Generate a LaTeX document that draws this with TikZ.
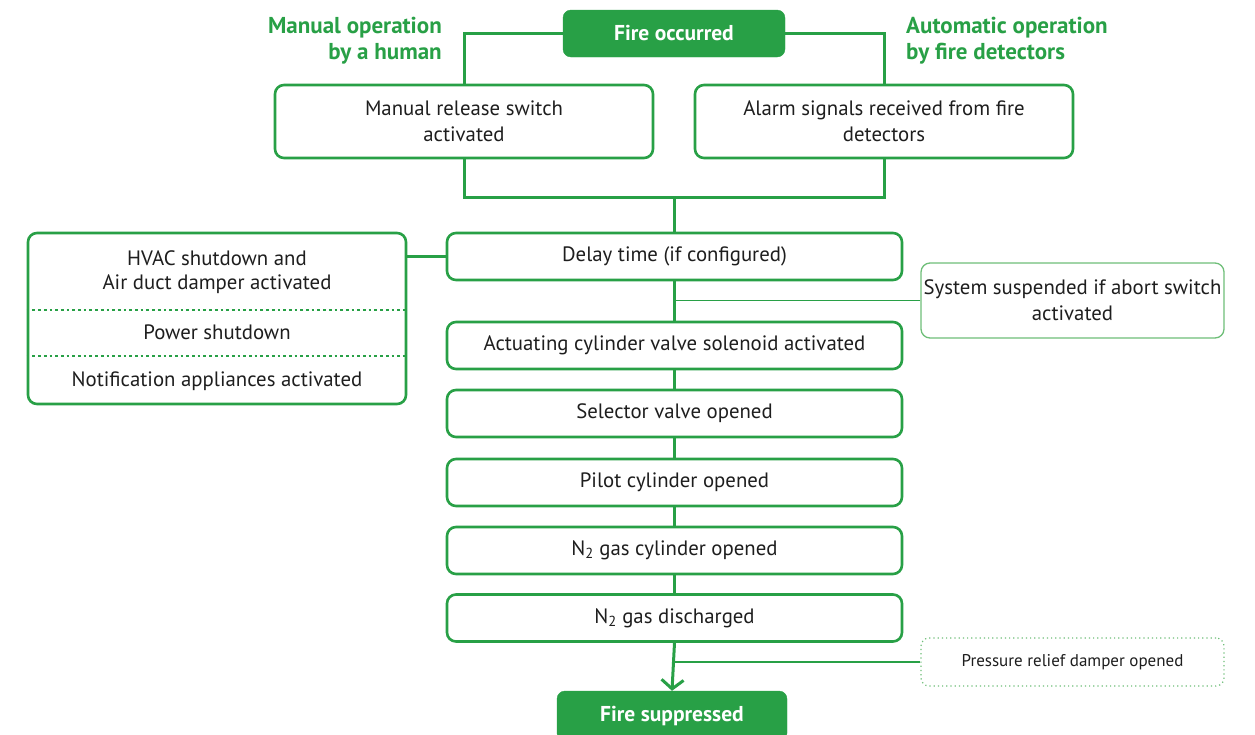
\documentclass[tikz,border=0pt]{standalone}
\usepackage{fontspec}
\setmainfont{PT Sans}
\usetikzlibrary{arrows.meta}
\definecolor{grn}{RGB}{40,160,70}
\definecolor{lgrn}{RGB}{110,190,120}
\definecolor{txt}{RGB}{30,30,30}
\begin{document}
\begin{tikzpicture}[x=1pt,y=-1pt,
  box/.style={draw=grn, line width=2.6pt, rounded corners=9pt, fill=white, text=txt,
    align=center, inner sep=0pt, font=\fontsize{20.8}{26}\selectfont},
  midbox/.style={box, minimum width=455pt, minimum height=47pt},
  topbox/.style={box, minimum width=378pt, minimum height=73pt},
  startbox/.style={fill=grn, draw=grn, rounded corners=8pt, text=white, inner sep=0pt,
    font=\bfseries\fontsize{21.5}{24}\selectfont, minimum width=222pt, minimum height=47pt},
  sidebox/.style={draw=lgrn, line width=1.3pt, rounded corners=9pt, fill=white, text=txt,
    align=center, inner sep=0pt, font=\fontsize{20.8}{26}\selectfont,
    minimum width=303pt, minimum height=75pt},
  dotbox/.style={draw=lgrn, line width=1.2pt, dash pattern=on 1.2pt off 3pt, rounded corners=8pt,
    fill=white, text=txt, inner sep=0pt, font=\fontsize{17}{20}\selectfont,
    minimum width=303pt, minimum height=48pt},
  lbl/.style={text=grn, font=\bfseries\fontsize{23}{26.5}\selectfont, inner sep=0pt},
  txtnode/.style={text=txt, inner sep=0pt, font=\fontsize{20.8}{24}\selectfont},
  conn/.style={draw=grn, line width=3pt},
  thinconn/.style={draw=grn, line width=1.4pt},
  dotsep/.style={draw=grn, line width=2.8pt, dash pattern=on 2.7pt off 3pt}
]
\useasboundingbox (0,0) rectangle (1255,734);

% top
\node[startbox] (fire) at (674,33.5) {Fire occurred};
\node[topbox] (manual) at (464,121.5) {Manual release switch\\activated};
\node[topbox] (alarm) at (884,121.5) {Alarm signals received from fire\\detectors};
\node[lbl, align=right, anchor=east] (lblm) at (442,40.5) {Manual operation\\by a human};
\node[lbl, align=left, anchor=west] (lbla) at (906,40.5) {Automatic operation\\by fire detectors};

\draw[conn] (fire.west) -| (manual.north);
\draw[conn] (fire.east) -| (alarm.north);

% middle chain
\node[midbox] (delay) at (674.5,256.5) {Delay time (if configured)};
\node[midbox] (act) at (674.5,345.5) {Actuating cylinder valve solenoid activated};
\node[midbox] (sel) at (674.5,413.5) {Selector valve opened};
\node[midbox] (pilot) at (674.5,482.5) {Pilot cylinder opened};
\node[midbox] (ncyl) at (674.5,550.5) {N\textsubscript{2} gas cylinder opened};
\node[midbox] (ndis) at (674.5,618) {N\textsubscript{2} gas discharged};
\node[startbox, minimum width=230pt, minimum height=50pt] (supp) at (672,716) {Fire suppressed};

\coordinate (merge) at (674.5,197);
\draw[conn] (manual.south) |- (merge) -| (alarm.south);
\draw[conn] (merge) -- (delay.north);
\draw[conn] (delay.south) -- (act.north);
\draw[conn] (act.south) -- (sel.north);
\draw[conn] (sel.south) -- (pilot.north);
\draw[conn] (pilot.south) -- (ncyl.north);
\draw[conn] (ncyl.south) -- (ndis.north);
\draw[conn, -{Straight Barb[length=9pt,width=22pt,line width=3pt]}] (ndis.south) -- (supp.north);

% side boxes
\node[sidebox] (abort) at (1072.5,300.5) {System suspended if abort switch\\activated};
\draw[thinconn] (abort.west) -- (abort.west -| delay.south);
\node[dotbox] (press) at (1072.5,662) {Pressure relief damper opened};
\draw[thinconn] (press.west) -- (press.west -| ndis.south);

% left box
\node[box, minimum width=378pt, minimum height=171pt] (hvac) at (217,318.5) {};
\node[txtnode] (h1) at (217,258) {HVAC shutdown and};
\node[txtnode] (h2) at (217,284) {Air duct damper activated};
\node[txtnode] (h3) at (217,332.5) {Power shutdown};
\node[txtnode] (h4) at (217,381) {Notification appliances activated};
\draw[dotsep] (hvac.west |- 0,310) -- (hvac.east |- 0,310);
\draw[dotsep] (hvac.west |- 0,356) -- (hvac.east |- 0,356);
\draw[conn] (delay.west) -- (delay.west -| hvac.east);
\end{tikzpicture}
\end{document}
